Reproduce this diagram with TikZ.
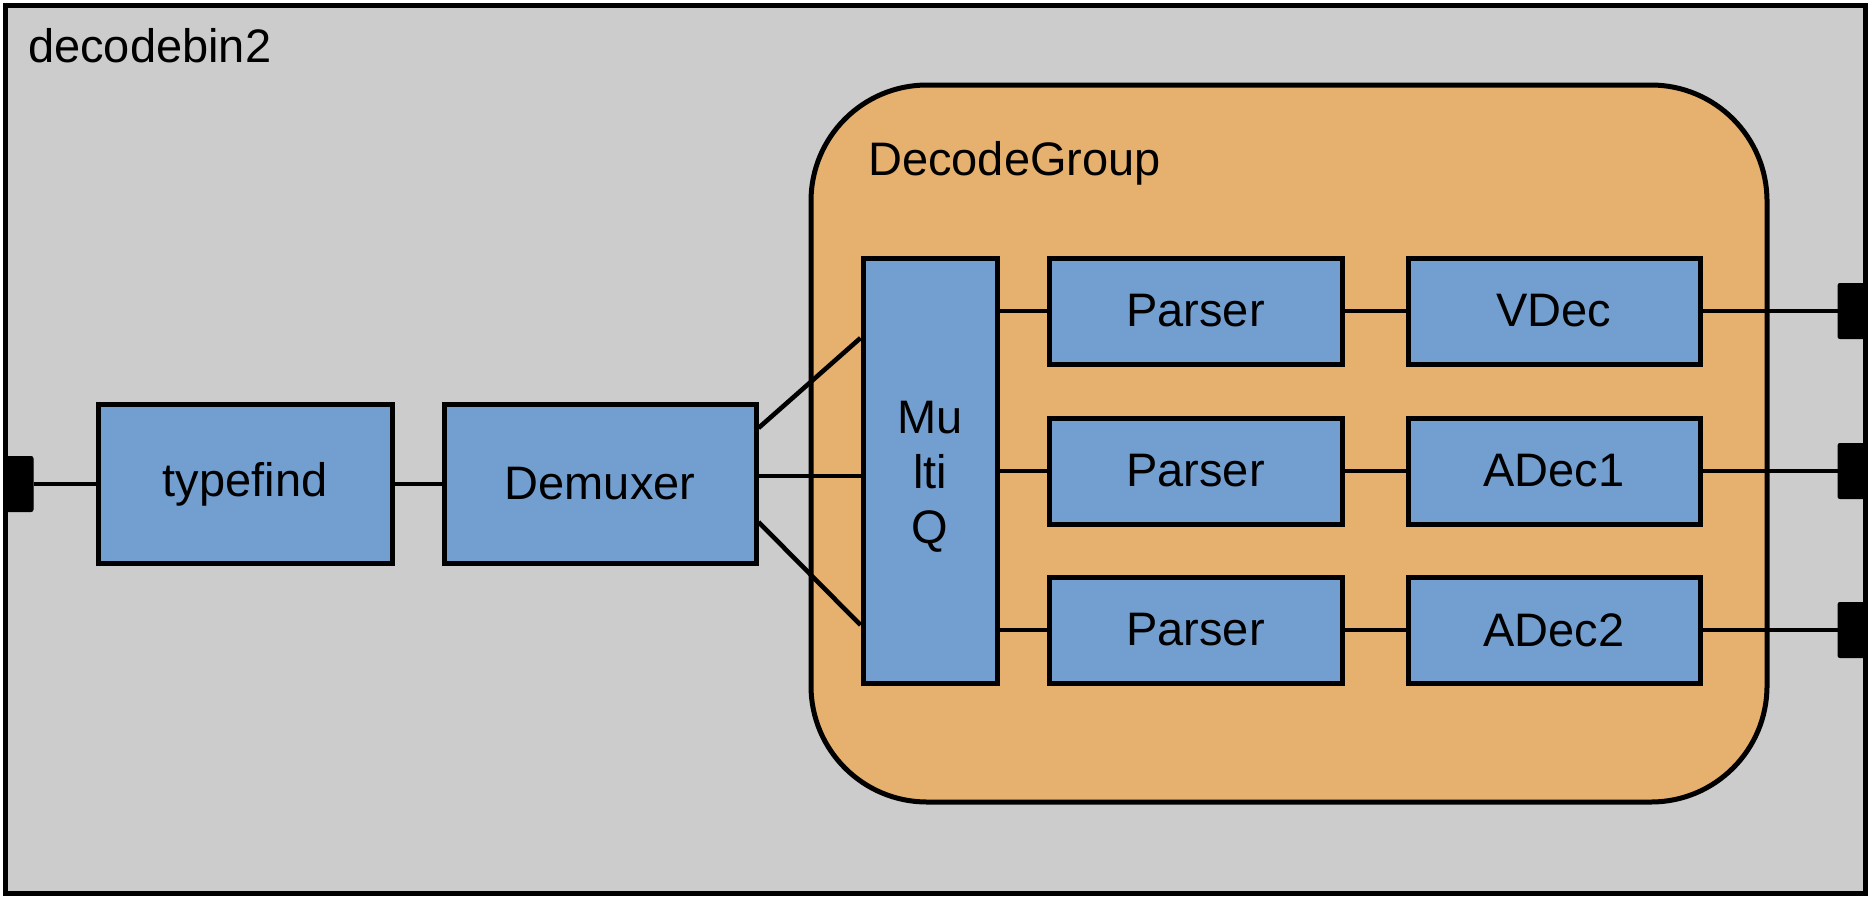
\documentclass[tikz,border=0pt]{standalone}
\usepackage{fontspec}
\setmainfont{Liberation Sans}
\definecolor{binbg}{HTML}{CCCCCC}
\definecolor{groupbg}{HTML}{E6B06F}
\definecolor{elembg}{HTML}{729FCF}
\begin{document}
\begin{tikzpicture}[x=1pt,y=-1pt,
  every node/.style={font=\fontsize{47}{55}\selectfont},
  elem/.style={draw=black,line width=5pt,fill=elembg,rectangle,inner sep=0pt,align=center},
  padbox/.style={fill=black,draw=black,line width=1pt,rounded corners=2pt,rectangle,inner sep=0pt,minimum width=28pt,minimum height=55pt},
  link/.style={line width=4.6pt}]
\useasboundingbox (0,0) rectangle (1871,897);
% the decodebin2 bin
\draw[line width=5pt,fill=binbg] (5,5) rectangle (1865,893);
\node[anchor=base west,inner sep=0pt] (binlabel) at (28,62) {decodebin2};
% the DecodeGroup
\draw[line width=5pt,fill=groupbg,rounded corners=116pt] (811,85) rectangle (1767,802);
\node[anchor=base west,inner sep=0pt] (grouplabel) at (868,175) {DecodeGroup};
% pads
\node[padbox] (sink) at (19,484) {};
\node[padbox] (src1) at (1852,311) {};
\node[padbox] (src2) at (1852,471) {};
\node[padbox] (src3) at (1852,630) {};
% elements
\node[elem,minimum width=294pt,minimum height=159pt] (tf) at (245,484) {typefind};
\node[elem,minimum width=312pt,minimum height=159pt] (dm) at (600,484) {Demuxer};
\node[elem,minimum width=134pt,minimum height=425pt] (mq) at (930,470.5) {\raisebox{-6pt}[\height][\depth]{\parbox{120pt}{\centering Mu\\lti\\Q}}};
\foreach \i/\y in {1/311,2/471,3/630}{
  \node[elem,minimum width=293pt,minimum height=106pt] (p\i) at (1195.5,\y) {Parser};
}
\node[elem,minimum width=292pt,minimum height=106pt] (d1) at (1554,311) {VDec};
\node[elem,minimum width=292pt,minimum height=106pt] (d2) at (1554,471) {ADec1};
\node[elem,minimum width=292pt,minimum height=106pt] (d3) at (1554,630) {ADec2};
% links
\draw[link] (sink.east) -- (tf.west);
\draw[link] (tf.east) -- (dm.west);
\draw[link] ([yshift=56pt]dm.east) -- ([yshift=132.5pt]mq.west);
\draw[link] ([yshift=8pt]dm.east) -- ([yshift=-5.5pt]mq.west);
\draw[link] ([yshift=-38pt]dm.east) -- ([yshift=-154.5pt]mq.west);
\foreach \i in {1,2,3}{
  \draw[link] (mq.east |- p\i.west) -- (p\i.west);
  \draw[link] (p\i.east) -- (d\i.west);
  \draw[link] (d\i.east) -- (src\i.west);
}
\end{tikzpicture}
\end{document}
